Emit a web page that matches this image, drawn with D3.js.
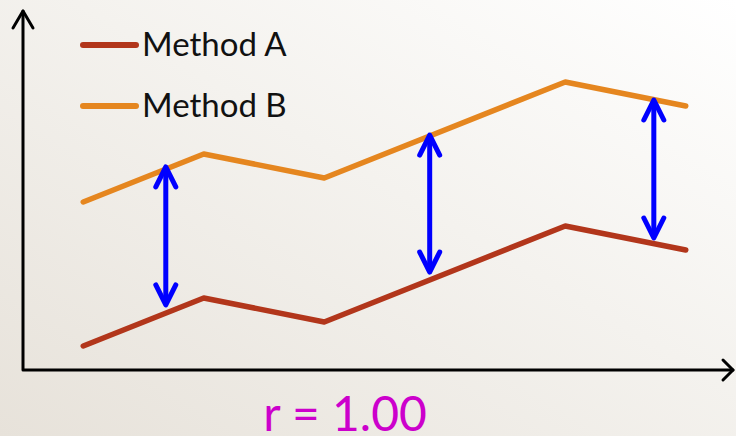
<!DOCTYPE html>
<html>
<head>
<meta charset="utf-8">
<script src="https://cdn.jsdelivr.net/npm/d3@7"></script>
<style>
  html, body { margin: 0; padding: 0; overflow: hidden; }
  svg { display: block; }
</style>
</head>
<body>
<svg id="chart" width="736" height="436"></svg>
<script>
// Series: the same profile measured by two methods (B is offset from A)
const xValues = [1, 3, 5, 9, 11];
const methodA = [1, 3, 2, 6, 5];
const methodB = [7, 9, 8, 12, 11];
const seriesNames = ["Method A", "Method B"];

// Vertical double arrows marking the gap between the two methods
const arrowX = [2.37, 6.75, 10.47];
const arrowTop = [8.46, 9.79, 11.25];
const arrowBottom = [2.71, 4.08, 5.5];

const caption = "r = 1.00";

const W = 736, H = 436;
const svg = d3.select("#chart");

// Soft diagonal background
const defs = svg.append("defs");
const grad = defs.append("linearGradient")
  .attr("id", "bg").attr("x1", "0%").attr("y1", "100%").attr("x2", "100%").attr("y2", "0%");
grad.append("stop").attr("offset", "0%").attr("stop-color", "#e7e2da");
grad.append("stop").attr("offset", "55%").attr("stop-color", "#f4f2ee");
grad.append("stop").attr("offset", "100%").attr("stop-color", "#ffffff");
svg.append("rect").attr("width", W).attr("height", H).attr("fill", "url(#bg)");

const x = d3.scaleLinear().domain([0, 12]).range([23, 746]);
const y = d3.scaleLinear().domain([0, 15]).range([370, 10]);

// Axes with open arrowheads
const axisColor = "#000";
const ax = svg.append("g")
  .attr("fill", "none").attr("stroke", axisColor).attr("stroke-width", 3)
  .attr("stroke-linecap", "round").attr("stroke-linejoin", "round");
const yTop = 11, xEnd = 733;
ax.append("path").attr("d", `M${x(0)},${yTop} L${x(0)},${y(0)} L${xEnd},${y(0)}`);
ax.append("path").attr("d", `M${x(0) - 10},${yTop + 17} L${x(0)},${yTop} L${x(0) + 10},${yTop + 17}`);
ax.append("path").attr("d", `M${xEnd - 10},${y(0) - 10} L${xEnd},${y(0)} L${xEnd - 10},${y(0) + 10}`);

// Data lines
const colors = ["#b2361b", "#e5861f"];
const line = d3.line().x((d, i) => x(xValues[i])).y(d => y(d));
[methodA, methodB].forEach((vals, k) => {
  svg.append("path").datum(vals)
    .attr("d", line)
    .attr("fill", "none")
    .attr("stroke", colors[k])
    .attr("stroke-width", 5.5)
    .attr("stroke-linecap", "round")
    .attr("stroke-linejoin", "round");
});

// Double arrows
const arrows = svg.append("g")
  .attr("fill", "none").attr("stroke", "#0000ff").attr("stroke-width", 5)
  .attr("stroke-linecap", "round").attr("stroke-linejoin", "round");
arrowX.forEach((xv, i) => {
  const px = x(xv), t = y(arrowTop[i]), b = y(arrowBottom[i]);
  arrows.append("path").attr("d", `M${px},${t + 2} L${px},${b - 2}`);
  arrows.append("path").attr("d", `M${px - 10},${t + 20} L${px},${t} L${px + 10},${t + 20}`);
  arrows.append("path").attr("d", `M${px - 10},${b - 20} L${px},${b} L${px + 10},${b - 20}`);
});

// Legend
const legend = svg.append("g");
seriesNames.forEach((name, k) => {
  const ly = 45 + k * 61;
  legend.append("line")
    .attr("x1", 83).attr("x2", 136).attr("y1", ly).attr("y2", ly)
    .attr("stroke", colors[k]).attr("stroke-width", 6).attr("stroke-linecap", "round");
  legend.append("text")
    .attr("x", 142).attr("y", ly + 11)
    .attr("font-family", "Lato, 'Open Sans', sans-serif")
    .attr("font-size", 33)
    .attr("fill", "#111")
    .text(name);
});

// Caption
svg.append("text")
  .attr("x", 345).attr("y", 431)
  .attr("text-anchor", "middle")
  .attr("font-family", "Lato, 'Open Sans', sans-serif")
  .attr("font-size", 48)
  .attr("fill", "#cc00cc")
  .text(caption);
</script>
</body>
</html>
